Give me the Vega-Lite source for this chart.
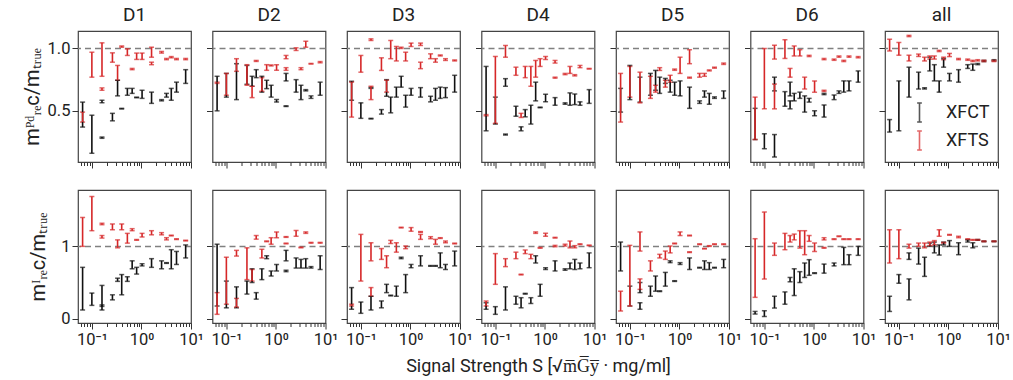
{
"$schema":"https://vega.github.io/schema/vega-lite/v6.json",
"padding":{"left":21,"top":5,"right":5,"bottom":5},
"config":{"font":"Roboto","view":{"stroke":"#444","strokeWidth":1.2},
"axis":{"grid":false,"domain":false,"tickColor":"#333","labelFontSize":16.5,"labelColor":"#222","titleFontSize":18,"titleFontWeight":"normal","titleColor":"#222","tickWidth":1},
"title":{"fontSize":19,"fontWeight":"normal","offset":6,"color":"#222"}},
"datasets":{"d":[
{"p":"D1","r":"P","m":"XFCT","s":0.065,"lo":0.37,"hi":0.57},
{"p":"D1","r":"P","m":"XFCT","s":0.1,"lo":0.16,"hi":0.465},
{"p":"D1","r":"P","m":"XFCT","s":0.16,"lo":0.565,"hi":0.585},
{"p":"D1","r":"P","m":"XFCT","s":0.16,"lo":0.28,"hi":0.29},
{"p":"D1","r":"P","m":"XFCT","s":0.26,"lo":0.42,"hi":0.48},
{"p":"D1","r":"P","m":"XFCT","s":0.33,"lo":0.62,"hi":0.745},
{"p":"D1","r":"P","m":"XFCT","s":0.4,"lo":0.515,"hi":0.52},
{"p":"D1","r":"P","m":"XFCT","s":0.52,"lo":0.625,"hi":0.68},
{"p":"D1","r":"P","m":"XFCT","s":0.65,"lo":0.64,"hi":0.68},
{"p":"D1","r":"P","m":"XFCT","s":0.8,"lo":0.605,"hi":0.61},
{"p":"D1","r":"P","m":"XFCT","s":1.03,"lo":0.6,"hi":0.665},
{"p":"D1","r":"P","m":"XFCT","s":1.6,"lo":0.56,"hi":0.65},
{"p":"D1","r":"P","m":"XFCT","s":2.55,"lo":0.58,"hi":0.59},
{"p":"D1","r":"P","m":"XFCT","s":3.2,"lo":0.61,"hi":0.64},
{"p":"D1","r":"P","m":"XFCT","s":4.0,"lo":0.585,"hi":0.68},
{"p":"D1","r":"P","m":"XFCT","s":5.1,"lo":0.65,"hi":0.73},
{"p":"D1","r":"P","m":"XFCT","s":7.8,"lo":0.72,"hi":0.83},
{"p":"D1","r":"I","m":"XFCT","s":0.065,"lo":0.12,"hi":0.71},
{"p":"D1","r":"I","m":"XFCT","s":0.1,"lo":0.184,"hi":0.354},
{"p":"D1","r":"I","m":"XFCT","s":0.16,"lo":0.12,"hi":0.46},
{"p":"D1","r":"I","m":"XFCT","s":0.16,"lo":0.17,"hi":0.19},
{"p":"D1","r":"I","m":"XFCT","s":0.26,"lo":0.26,"hi":0.33},
{"p":"D1","r":"I","m":"XFCT","s":0.33,"lo":0.516,"hi":0.56},
{"p":"D1","r":"I","m":"XFCT","s":0.4,"lo":0.33,"hi":0.61},
{"p":"D1","r":"I","m":"XFCT","s":0.52,"lo":0.516,"hi":0.58},
{"p":"D1","r":"I","m":"XFCT","s":0.65,"lo":0.69,"hi":0.8},
{"p":"D1","r":"I","m":"XFCT","s":0.8,"lo":0.617,"hi":0.71},
{"p":"D1","r":"I","m":"XFCT","s":1.03,"lo":0.73,"hi":0.76},
{"p":"D1","r":"I","m":"XFCT","s":1.6,"lo":0.71,"hi":0.83},
{"p":"D1","r":"I","m":"XFCT","s":2.55,"lo":0.69,"hi":0.8},
{"p":"D1","r":"I","m":"XFCT","s":3.2,"lo":0.765,"hi":0.775},
{"p":"D1","r":"I","m":"XFCT","s":4.0,"lo":0.69,"hi":0.954},
{"p":"D1","r":"I","m":"XFCT","s":5.1,"lo":0.75,"hi":0.93},
{"p":"D1","r":"I","m":"XFCT","s":7.8,"lo":0.84,"hi":1.02},
{"p":"D2","r":"P","m":"XFCT","s":0.065,"lo":0.5,"hi":0.777},
{"p":"D2","r":"P","m":"XFCT","s":0.1,"lo":0.61,"hi":0.8},
{"p":"D2","r":"P","m":"XFCT","s":0.16,"lo":0.59,"hi":0.878},
{"p":"D2","r":"P","m":"XFCT","s":0.26,"lo":0.713,"hi":0.864},
{"p":"D2","r":"P","m":"XFCT","s":0.33,"lo":0.697,"hi":0.777},
{"p":"D2","r":"P","m":"XFCT","s":0.4,"lo":0.766,"hi":0.83},
{"p":"D2","r":"P","m":"XFCT","s":0.52,"lo":0.65,"hi":0.777},
{"p":"D2","r":"P","m":"XFCT","s":0.65,"lo":0.678,"hi":0.745},
{"p":"D2","r":"P","m":"XFCT","s":0.8,"lo":0.61,"hi":0.705},
{"p":"D2","r":"P","m":"XFCT","s":1.03,"lo":0.57,"hi":0.59},
{"p":"D2","r":"P","m":"XFCT","s":1.6,"lo":0.74,"hi":0.8},
{"p":"D2","r":"P","m":"XFCT","s":1.6,"lo":0.535,"hi":0.54},
{"p":"D2","r":"P","m":"XFCT","s":2.55,"lo":0.65,"hi":0.75},
{"p":"D2","r":"P","m":"XFCT","s":3.2,"lo":0.59,"hi":0.705},
{"p":"D2","r":"P","m":"XFCT","s":4.0,"lo":0.66,"hi":0.67},
{"p":"D2","r":"P","m":"XFCT","s":5.1,"lo":0.6,"hi":0.62},
{"p":"D2","r":"P","m":"XFCT","s":7.8,"lo":0.625,"hi":0.73},
{"p":"D2","r":"I","m":"XFCT","s":0.065,"lo":0.175,"hi":1.03},
{"p":"D2","r":"I","m":"XFCT","s":0.1,"lo":0.15,"hi":0.52},
{"p":"D2","r":"I","m":"XFCT","s":0.16,"lo":0.15,"hi":0.44},
{"p":"D2","r":"I","m":"XFCT","s":0.26,"lo":0.34,"hi":0.52},
{"p":"D2","r":"I","m":"XFCT","s":0.33,"lo":0.5,"hi":0.69},
{"p":"D2","r":"I","m":"XFCT","s":0.4,"lo":0.27,"hi":0.36},
{"p":"D2","r":"I","m":"XFCT","s":0.52,"lo":0.54,"hi":0.69},
{"p":"D2","r":"I","m":"XFCT","s":0.65,"lo":0.83,"hi":0.87},
{"p":"D2","r":"I","m":"XFCT","s":0.8,"lo":0.59,"hi":0.66},
{"p":"D2","r":"I","m":"XFCT","s":1.03,"lo":0.66,"hi":0.75},
{"p":"D2","r":"I","m":"XFCT","s":1.6,"lo":0.8,"hi":0.945},
{"p":"D2","r":"I","m":"XFCT","s":1.6,"lo":0.65,"hi":0.67},
{"p":"D2","r":"I","m":"XFCT","s":2.55,"lo":0.7,"hi":0.84},
{"p":"D2","r":"I","m":"XFCT","s":3.2,"lo":0.7,"hi":0.82},
{"p":"D2","r":"I","m":"XFCT","s":4.0,"lo":0.7,"hi":0.83},
{"p":"D2","r":"I","m":"XFCT","s":5.1,"lo":0.7,"hi":0.72},
{"p":"D2","r":"I","m":"XFCT","s":7.8,"lo":0.68,"hi":0.87},
{"p":"D3","r":"P","m":"XFCT","s":0.065,"lo":0.585,"hi":0.737},
{"p":"D3","r":"P","m":"XFCT","s":0.1,"lo":0.44,"hi":0.564},
{"p":"D3","r":"P","m":"XFCT","s":0.16,"lo":0.68,"hi":0.688},
{"p":"D3","r":"P","m":"XFCT","s":0.16,"lo":0.435,"hi":0.44},
{"p":"D3","r":"P","m":"XFCT","s":0.26,"lo":0.474,"hi":0.51},
{"p":"D3","r":"P","m":"XFCT","s":0.33,"lo":0.617,"hi":0.75},
{"p":"D3","r":"P","m":"XFCT","s":0.4,"lo":0.484,"hi":0.61},
{"p":"D3","r":"P","m":"XFCT","s":0.52,"lo":0.61,"hi":0.69},
{"p":"D3","r":"P","m":"XFCT","s":0.65,"lo":0.69,"hi":0.777},
{"p":"D3","r":"P","m":"XFCT","s":0.8,"lo":0.53,"hi":0.625},
{"p":"D3","r":"P","m":"XFCT","s":1.03,"lo":0.625,"hi":0.68},
{"p":"D3","r":"P","m":"XFCT","s":1.6,"lo":0.61,"hi":0.686},
{"p":"D3","r":"P","m":"XFCT","s":2.55,"lo":0.572,"hi":0.617},
{"p":"D3","r":"P","m":"XFCT","s":3.2,"lo":0.585,"hi":0.68},
{"p":"D3","r":"P","m":"XFCT","s":4.0,"lo":0.6,"hi":0.69},
{"p":"D3","r":"P","m":"XFCT","s":5.1,"lo":0.606,"hi":0.686},
{"p":"D3","r":"P","m":"XFCT","s":7.8,"lo":0.65,"hi":0.785},
{"p":"D3","r":"I","m":"XFCT","s":0.065,"lo":0.13,"hi":0.43},
{"p":"D3","r":"I","m":"XFCT","s":0.1,"lo":0.074,"hi":0.23},
{"p":"D3","r":"I","m":"XFCT","s":0.16,"lo":0.12,"hi":0.31},
{"p":"D3","r":"I","m":"XFCT","s":0.26,"lo":0.15,"hi":0.245},
{"p":"D3","r":"I","m":"XFCT","s":0.33,"lo":0.36,"hi":0.475},
{"p":"D3","r":"I","m":"XFCT","s":0.4,"lo":0.315,"hi":0.325},
{"p":"D3","r":"I","m":"XFCT","s":0.52,"lo":0.31,"hi":0.45},
{"p":"D3","r":"I","m":"XFCT","s":0.65,"lo":0.83,"hi":0.85},
{"p":"D3","r":"I","m":"XFCT","s":0.8,"lo":0.36,"hi":0.61},
{"p":"D3","r":"I","m":"XFCT","s":1.03,"lo":0.705,"hi":0.75},
{"p":"D3","r":"I","m":"XFCT","s":1.6,"lo":0.73,"hi":0.87},
{"p":"D3","r":"I","m":"XFCT","s":2.55,"lo":0.725,"hi":0.735},
{"p":"D3","r":"I","m":"XFCT","s":3.2,"lo":0.725,"hi":0.735},
{"p":"D3","r":"I","m":"XFCT","s":4.0,"lo":0.705,"hi":0.91},
{"p":"D3","r":"I","m":"XFCT","s":5.1,"lo":0.68,"hi":0.75},
{"p":"D3","r":"I","m":"XFCT","s":7.8,"lo":0.73,"hi":0.935},
{"p":"D4","r":"P","m":"XFCT","s":0.065,"lo":0.34,"hi":0.856},
{"p":"D4","r":"P","m":"XFCT","s":0.1,"lo":0.394,"hi":0.61},
{"p":"D4","r":"P","m":"XFCT","s":0.16,"lo":0.697,"hi":0.758},
{"p":"D4","r":"P","m":"XFCT","s":0.16,"lo":0.306,"hi":0.314},
{"p":"D4","r":"P","m":"XFCT","s":0.26,"lo":0.457,"hi":0.537},
{"p":"D4","r":"P","m":"XFCT","s":0.33,"lo":0.34,"hi":0.372},
{"p":"D4","r":"P","m":"XFCT","s":0.4,"lo":0.452,"hi":0.51},
{"p":"D4","r":"P","m":"XFCT","s":0.52,"lo":0.394,"hi":0.545},
{"p":"D4","r":"P","m":"XFCT","s":0.65,"lo":0.58,"hi":0.73},
{"p":"D4","r":"P","m":"XFCT","s":0.8,"lo":0.525,"hi":0.53},
{"p":"D4","r":"P","m":"XFCT","s":1.03,"lo":0.572,"hi":0.633},
{"p":"D4","r":"P","m":"XFCT","s":1.6,"lo":0.545,"hi":0.606},
{"p":"D4","r":"P","m":"XFCT","s":2.55,"lo":0.553,"hi":0.564},
{"p":"D4","r":"P","m":"XFCT","s":3.2,"lo":0.545,"hi":0.644},
{"p":"D4","r":"P","m":"XFCT","s":4.0,"lo":0.55,"hi":0.635},
{"p":"D4","r":"P","m":"XFCT","s":5.1,"lo":0.545,"hi":0.572},
{"p":"D4","r":"P","m":"XFCT","s":7.8,"lo":0.56,"hi":0.67},
{"p":"D4","r":"I","m":"XFCT","s":0.065,"lo":0.13,"hi":0.22},
{"p":"D4","r":"I","m":"XFCT","s":0.1,"lo":0.06,"hi":0.166},
{"p":"D4","r":"I","m":"XFCT","s":0.16,"lo":0.12,"hi":0.44},
{"p":"D4","r":"I","m":"XFCT","s":0.26,"lo":0.2,"hi":0.31},
{"p":"D4","r":"I","m":"XFCT","s":0.33,"lo":0.15,"hi":0.29},
{"p":"D4","r":"I","m":"XFCT","s":0.4,"lo":0.34,"hi":0.35},
{"p":"D4","r":"I","m":"XFCT","s":0.52,"lo":0.21,"hi":0.29},
{"p":"D4","r":"I","m":"XFCT","s":0.65,"lo":0.77,"hi":0.87},
{"p":"D4","r":"I","m":"XFCT","s":0.8,"lo":0.31,"hi":0.475},
{"p":"D4","r":"I","m":"XFCT","s":1.03,"lo":0.68,"hi":0.705},
{"p":"D4","r":"I","m":"XFCT","s":1.6,"lo":0.66,"hi":0.8},
{"p":"D4","r":"I","m":"XFCT","s":2.55,"lo":0.67,"hi":0.69},
{"p":"D4","r":"I","m":"XFCT","s":3.2,"lo":0.69,"hi":0.77},
{"p":"D4","r":"I","m":"XFCT","s":4.0,"lo":0.68,"hi":0.82},
{"p":"D4","r":"I","m":"XFCT","s":5.1,"lo":0.69,"hi":0.77},
{"p":"D4","r":"I","m":"XFCT","s":7.8,"lo":0.705,"hi":0.91},
{"p":"D5","r":"P","m":"XFCT","s":0.065,"lo":0.49,"hi":0.68},
{"p":"D5","r":"P","m":"XFCT","s":0.1,"lo":0.59,"hi":0.864},
{"p":"D5","r":"P","m":"XFCT","s":0.16,"lo":0.57,"hi":0.77},
{"p":"D5","r":"P","m":"XFCT","s":0.26,"lo":0.625,"hi":0.8},
{"p":"D5","r":"P","m":"XFCT","s":0.33,"lo":0.665,"hi":0.824},
{"p":"D5","r":"P","m":"XFCT","s":0.4,"lo":0.64,"hi":0.77},
{"p":"D5","r":"P","m":"XFCT","s":0.52,"lo":0.72,"hi":0.76},
{"p":"D5","r":"P","m":"XFCT","s":0.65,"lo":0.65,"hi":0.745},
{"p":"D5","r":"P","m":"XFCT","s":0.8,"lo":0.625,"hi":0.73},
{"p":"D5","r":"P","m":"XFCT","s":1.03,"lo":0.62,"hi":0.74},
{"p":"D5","r":"P","m":"XFCT","s":1.6,"lo":0.52,"hi":0.69},
{"p":"D5","r":"P","m":"XFCT","s":2.55,"lo":0.56,"hi":0.58},
{"p":"D5","r":"P","m":"XFCT","s":3.2,"lo":0.61,"hi":0.66},
{"p":"D5","r":"P","m":"XFCT","s":4.0,"lo":0.553,"hi":0.64},
{"p":"D5","r":"P","m":"XFCT","s":5.1,"lo":0.6,"hi":0.612},
{"p":"D5","r":"P","m":"XFCT","s":7.8,"lo":0.6,"hi":0.66},
{"p":"D5","r":"I","m":"XFCT","s":0.065,"lo":0.66,"hi":1.06},
{"p":"D5","r":"I","m":"XFCT","s":0.1,"lo":0.175,"hi":0.45},
{"p":"D5","r":"I","m":"XFCT","s":0.16,"lo":0.36,"hi":0.5},
{"p":"D5","r":"I","m":"XFCT","s":0.16,"lo":0.13,"hi":0.22},
{"p":"D5","r":"I","m":"XFCT","s":0.26,"lo":0.31,"hi":0.45},
{"p":"D5","r":"I","m":"XFCT","s":0.33,"lo":0.38,"hi":0.59},
{"p":"D5","r":"I","m":"XFCT","s":0.4,"lo":0.375,"hi":0.385},
{"p":"D5","r":"I","m":"XFCT","s":0.52,"lo":0.45,"hi":0.64},
{"p":"D5","r":"I","m":"XFCT","s":0.65,"lo":0.775,"hi":0.8},
{"p":"D5","r":"I","m":"XFCT","s":0.8,"lo":0.515,"hi":0.525},
{"p":"D5","r":"I","m":"XFCT","s":1.03,"lo":0.75,"hi":0.775},
{"p":"D5","r":"I","m":"XFCT","s":1.6,"lo":0.68,"hi":0.84},
{"p":"D5","r":"I","m":"XFCT","s":2.55,"lo":0.7,"hi":0.71},
{"p":"D5","r":"I","m":"XFCT","s":3.2,"lo":0.68,"hi":0.8},
{"p":"D5","r":"I","m":"XFCT","s":4.0,"lo":0.68,"hi":0.775},
{"p":"D5","r":"I","m":"XFCT","s":5.1,"lo":0.7,"hi":0.71},
{"p":"D5","r":"I","m":"XFCT","s":7.8,"lo":0.705,"hi":0.82},
{"p":"D6","r":"P","m":"XFCT","s":0.065,"lo":0.27,"hi":0.52},
{"p":"D6","r":"P","m":"XFCT","s":0.1,"lo":0.197,"hi":0.316},
{"p":"D6","r":"P","m":"XFCT","s":0.16,"lo":0.13,"hi":0.31},
{"p":"D6","r":"P","m":"XFCT","s":0.16,"lo":0.66,"hi":0.77},
{"p":"D6","r":"P","m":"XFCT","s":0.26,"lo":0.537,"hi":0.654},
{"p":"D6","r":"P","m":"XFCT","s":0.33,"lo":0.62,"hi":0.73},
{"p":"D6","r":"P","m":"XFCT","s":0.33,"lo":0.516,"hi":0.58},
{"p":"D6","r":"P","m":"XFCT","s":0.4,"lo":0.58,"hi":0.64},
{"p":"D6","r":"P","m":"XFCT","s":0.52,"lo":0.6,"hi":0.65},
{"p":"D6","r":"P","m":"XFCT","s":0.65,"lo":0.49,"hi":0.62},
{"p":"D6","r":"P","m":"XFCT","s":0.8,"lo":0.57,"hi":0.6},
{"p":"D6","r":"P","m":"XFCT","s":1.03,"lo":0.46,"hi":0.5},
{"p":"D6","r":"P","m":"XFCT","s":1.6,"lo":0.45,"hi":0.547},
{"p":"D6","r":"P","m":"XFCT","s":1.6,"lo":0.63,"hi":0.64},
{"p":"D6","r":"P","m":"XFCT","s":2.55,"lo":0.59,"hi":0.627},
{"p":"D6","r":"P","m":"XFCT","s":3.2,"lo":0.64,"hi":0.66},
{"p":"D6","r":"P","m":"XFCT","s":4.0,"lo":0.65,"hi":0.74},
{"p":"D6","r":"P","m":"XFCT","s":5.1,"lo":0.66,"hi":0.74},
{"p":"D6","r":"P","m":"XFCT","s":7.8,"lo":0.73,"hi":0.82},
{"p":"D6","r":"I","m":"XFCT","s":0.065,"lo":0.064,"hi":0.1},
{"p":"D6","r":"I","m":"XFCT","s":0.1,"lo":0.03,"hi":0.11},
{"p":"D6","r":"I","m":"XFCT","s":0.16,"lo":0.147,"hi":0.31},
{"p":"D6","r":"I","m":"XFCT","s":0.26,"lo":0.2,"hi":0.37},
{"p":"D6","r":"I","m":"XFCT","s":0.33,"lo":0.51,"hi":0.57},
{"p":"D6","r":"I","m":"XFCT","s":0.4,"lo":0.32,"hi":0.69},
{"p":"D6","r":"I","m":"XFCT","s":0.52,"lo":0.5,"hi":0.65},
{"p":"D6","r":"I","m":"XFCT","s":0.65,"lo":0.57,"hi":0.77},
{"p":"D6","r":"I","m":"XFCT","s":0.8,"lo":0.6,"hi":0.816},
{"p":"D6","r":"I","m":"XFCT","s":1.03,"lo":0.625,"hi":0.635},
{"p":"D6","r":"I","m":"XFCT","s":1.6,"lo":0.63,"hi":0.755},
{"p":"D6","r":"I","m":"XFCT","s":2.55,"lo":0.73,"hi":0.77},
{"p":"D6","r":"I","m":"XFCT","s":4.0,"lo":0.747,"hi":0.986},
{"p":"D6","r":"I","m":"XFCT","s":5.1,"lo":0.747,"hi":0.885},
{"p":"D6","r":"I","m":"XFCT","s":7.8,"lo":0.876,"hi":1.0},
{"p":"all","r":"P","m":"XFCT","s":0.065,"lo":0.33,"hi":0.43},
{"p":"all","r":"P","m":"XFCT","s":0.1,"lo":0.34,"hi":0.74},
{"p":"all","r":"P","m":"XFCT","s":0.16,"lo":0.61,"hi":0.85},
{"p":"all","r":"P","m":"XFCT","s":0.25,"lo":0.675,"hi":0.81},
{"p":"all","r":"P","m":"XFCT","s":0.33,"lo":0.675,"hi":0.685},
{"p":"all","r":"P","m":"XFCT","s":0.42,"lo":0.82,"hi":0.93},
{"p":"all","r":"P","m":"XFCT","s":0.52,"lo":0.74,"hi":0.87},
{"p":"all","r":"P","m":"XFCT","s":0.65,"lo":0.65,"hi":0.74},
{"p":"all","r":"P","m":"XFCT","s":0.8,"lo":0.85,"hi":0.92},
{"p":"all","r":"P","m":"XFCT","s":1.05,"lo":0.74,"hi":0.8},
{"p":"all","r":"P","m":"XFCT","s":1.6,"lo":0.73,"hi":0.83},
{"p":"all","r":"P","m":"XFCT","s":2.45,"lo":0.84,"hi":0.87},
{"p":"all","r":"P","m":"XFCT","s":3.1,"lo":0.825,"hi":0.875},
{"p":"all","r":"P","m":"XFCT","s":3.9,"lo":0.87,"hi":0.88},
{"p":"all","r":"P","m":"XFCT","s":5.2,"lo":0.895,"hi":0.905},
{"p":"all","r":"P","m":"XFCT","s":8.3,"lo":0.9,"hi":0.91},
{"p":"all","r":"I","m":"XFCT","s":0.065,"lo":0.1,"hi":0.31},
{"p":"all","r":"I","m":"XFCT","s":0.1,"lo":0.49,"hi":0.61},
{"p":"all","r":"I","m":"XFCT","s":0.16,"lo":0.26,"hi":0.55},
{"p":"all","r":"I","m":"XFCT","s":0.16,"lo":0.82,"hi":0.91},
{"p":"all","r":"I","m":"XFCT","s":0.25,"lo":0.755,"hi":0.976},
{"p":"all","r":"I","m":"XFCT","s":0.33,"lo":0.585,"hi":0.85},
{"p":"all","r":"I","m":"XFCT","s":0.42,"lo":1.0,"hi":1.046},
{"p":"all","r":"I","m":"XFCT","s":0.52,"lo":0.91,"hi":1.06},
{"p":"all","r":"I","m":"XFCT","s":0.65,"lo":0.88,"hi":1.02},
{"p":"all","r":"I","m":"XFCT","s":0.8,"lo":1.02,"hi":1.06},
{"p":"all","r":"I","m":"XFCT","s":1.05,"lo":1.0,"hi":1.08},
{"p":"all","r":"I","m":"XFCT","s":1.6,"lo":0.885,"hi":1.05},
{"p":"all","r":"I","m":"XFCT","s":2.45,"lo":1.06,"hi":1.09},
{"p":"all","r":"I","m":"XFCT","s":3.1,"lo":0.98,"hi":1.05},
{"p":"all","r":"I","m":"XFCT","s":3.9,"lo":1.085,"hi":1.095},
{"p":"all","r":"I","m":"XFCT","s":5.2,"lo":1.065,"hi":1.075},
{"p":"all","r":"I","m":"XFCT","s":8.3,"lo":1.065,"hi":1.075},
{"p":"D1","r":"P","m":"XFTS","s":0.065,"lo":0.41,"hi":0.49},
{"p":"D1","r":"P","m":"XFTS","s":0.1,"lo":0.77,"hi":0.97},
{"p":"D1","r":"P","m":"XFTS","s":0.16,"lo":0.777,"hi":1.045},
{"p":"D1","r":"P","m":"XFTS","s":0.16,"lo":0.665,"hi":0.684},
{"p":"D1","r":"P","m":"XFTS","s":0.26,"lo":0.89,"hi":0.965},
{"p":"D1","r":"P","m":"XFTS","s":0.33,"lo":0.745,"hi":0.864},
{"p":"D1","r":"P","m":"XFTS","s":0.4,"lo":1.01,"hi":1.02},
{"p":"D1","r":"P","m":"XFTS","s":0.52,"lo":0.944,"hi":0.997},
{"p":"D1","r":"P","m":"XFTS","s":0.65,"lo":0.83,"hi":0.84},
{"p":"D1","r":"P","m":"XFTS","s":0.8,"lo":0.912,"hi":0.963},
{"p":"D1","r":"P","m":"XFTS","s":1.03,"lo":0.912,"hi":0.963},
{"p":"D1","r":"P","m":"XFTS","s":1.6,"lo":0.93,"hi":1.01},
{"p":"D1","r":"P","m":"XFTS","s":1.6,"lo":0.87,"hi":0.89},
{"p":"D1","r":"P","m":"XFTS","s":2.55,"lo":0.963,"hi":0.976},
{"p":"D1","r":"P","m":"XFTS","s":3.2,"lo":0.91,"hi":0.92},
{"p":"D1","r":"P","m":"XFTS","s":4.0,"lo":0.925,"hi":0.935},
{"p":"D1","r":"P","m":"XFTS","s":5.1,"lo":0.91,"hi":0.92},
{"p":"D1","r":"P","m":"XFTS","s":7.8,"lo":0.91,"hi":0.92},
{"p":"D1","r":"I","m":"XFTS","s":0.065,"lo":1.0,"hi":1.4},
{"p":"D1","r":"I","m":"XFTS","s":0.1,"lo":1.217,"hi":1.69},
{"p":"D1","r":"I","m":"XFTS","s":0.16,"lo":1.3,"hi":1.32},
{"p":"D1","r":"I","m":"XFTS","s":0.16,"lo":1.115,"hi":1.15},
{"p":"D1","r":"I","m":"XFTS","s":0.26,"lo":1.23,"hi":1.31},
{"p":"D1","r":"I","m":"XFTS","s":0.33,"lo":0.98,"hi":1.09},
{"p":"D1","r":"I","m":"XFTS","s":0.4,"lo":1.23,"hi":1.31},
{"p":"D1","r":"I","m":"XFTS","s":0.52,"lo":1.045,"hi":1.18},
{"p":"D1","r":"I","m":"XFTS","s":0.65,"lo":1.217,"hi":1.245},
{"p":"D1","r":"I","m":"XFTS","s":0.8,"lo":1.085,"hi":1.095},
{"p":"D1","r":"I","m":"XFTS","s":1.03,"lo":1.13,"hi":1.18},
{"p":"D1","r":"I","m":"XFTS","s":1.6,"lo":1.16,"hi":1.217},
{"p":"D1","r":"I","m":"XFTS","s":2.55,"lo":1.16,"hi":1.19},
{"p":"D1","r":"I","m":"XFTS","s":3.2,"lo":1.09,"hi":1.12},
{"p":"D1","r":"I","m":"XFTS","s":4.0,"lo":1.145,"hi":1.155},
{"p":"D1","r":"I","m":"XFTS","s":5.1,"lo":1.095,"hi":1.105},
{"p":"D1","r":"I","m":"XFTS","s":7.8,"lo":1.075,"hi":1.085},
{"p":"D2","r":"P","m":"XFTS","s":0.065,"lo":0.72,"hi":0.73},
{"p":"D2","r":"P","m":"XFTS","s":0.1,"lo":0.625,"hi":0.8},
{"p":"D2","r":"P","m":"XFTS","s":0.16,"lo":0.817,"hi":0.918},
{"p":"D2","r":"P","m":"XFTS","s":0.26,"lo":0.705,"hi":0.87},
{"p":"D2","r":"P","m":"XFTS","s":0.33,"lo":0.606,"hi":0.697},
{"p":"D2","r":"P","m":"XFTS","s":0.4,"lo":0.896,"hi":0.904},
{"p":"D2","r":"P","m":"XFTS","s":0.52,"lo":0.657,"hi":0.766},
{"p":"D2","r":"P","m":"XFTS","s":0.65,"lo":0.825,"hi":0.87},
{"p":"D2","r":"P","m":"XFTS","s":0.8,"lo":0.86,"hi":0.868},
{"p":"D2","r":"P","m":"XFTS","s":1.03,"lo":0.825,"hi":0.87},
{"p":"D2","r":"P","m":"XFTS","s":1.6,"lo":0.918,"hi":0.944},
{"p":"D2","r":"P","m":"XFTS","s":1.6,"lo":0.825,"hi":0.846},
{"p":"D2","r":"P","m":"XFTS","s":2.55,"lo":0.984,"hi":1.005},
{"p":"D2","r":"P","m":"XFTS","s":3.2,"lo":0.83,"hi":0.846},
{"p":"D2","r":"P","m":"XFTS","s":4.0,"lo":1.01,"hi":1.058},
{"p":"D2","r":"P","m":"XFTS","s":5.1,"lo":0.875,"hi":0.88},
{"p":"D2","r":"P","m":"XFTS","s":7.8,"lo":0.885,"hi":0.895},
{"p":"D2","r":"I","m":"XFTS","s":0.065,"lo":0.06,"hi":0.36},
{"p":"D2","r":"I","m":"XFTS","s":0.1,"lo":0.2,"hi":0.85},
{"p":"D2","r":"I","m":"XFTS","s":0.16,"lo":0.16,"hi":0.28},
{"p":"D2","r":"I","m":"XFTS","s":0.16,"lo":0.866,"hi":0.945},
{"p":"D2","r":"I","m":"XFTS","s":0.26,"lo":0.54,"hi":0.98},
{"p":"D2","r":"I","m":"XFTS","s":0.33,"lo":0.52,"hi":0.68},
{"p":"D2","r":"I","m":"XFTS","s":0.4,"lo":1.1,"hi":1.15},
{"p":"D2","r":"I","m":"XFTS","s":0.52,"lo":0.84,"hi":0.96},
{"p":"D2","r":"I","m":"XFTS","s":0.65,"lo":1.065,"hi":1.075},
{"p":"D2","r":"I","m":"XFTS","s":0.8,"lo":1.03,"hi":1.12},
{"p":"D2","r":"I","m":"XFTS","s":1.03,"lo":1.12,"hi":1.2},
{"p":"D2","r":"I","m":"XFTS","s":1.6,"lo":1.125,"hi":1.135},
{"p":"D2","r":"I","m":"XFTS","s":1.6,"lo":1.035,"hi":1.045},
{"p":"D2","r":"I","m":"XFTS","s":2.55,"lo":1.14,"hi":1.22},
{"p":"D2","r":"I","m":"XFTS","s":3.2,"lo":0.98,"hi":0.99},
{"p":"D2","r":"I","m":"XFTS","s":4.0,"lo":1.18,"hi":1.2},
{"p":"D2","r":"I","m":"XFTS","s":5.1,"lo":1.045,"hi":1.055},
{"p":"D2","r":"I","m":"XFTS","s":7.8,"lo":1.045,"hi":1.055},
{"p":"D3","r":"P","m":"XFTS","s":0.065,"lo":0.45,"hi":0.73},
{"p":"D3","r":"P","m":"XFTS","s":0.1,"lo":0.81,"hi":0.944},
{"p":"D3","r":"P","m":"XFTS","s":0.16,"lo":1.064,"hi":1.077},
{"p":"D3","r":"P","m":"XFTS","s":0.16,"lo":0.59,"hi":0.697},
{"p":"D3","r":"P","m":"XFTS","s":0.26,"lo":0.824,"hi":0.925},
{"p":"D3","r":"P","m":"XFTS","s":0.33,"lo":0.65,"hi":0.745},
{"p":"D3","r":"P","m":"XFTS","s":0.4,"lo":0.918,"hi":1.064},
{"p":"D3","r":"P","m":"XFTS","s":0.52,"lo":0.9,"hi":1.016},
{"p":"D3","r":"P","m":"XFTS","s":0.65,"lo":1.0,"hi":1.01},
{"p":"D3","r":"P","m":"XFTS","s":0.8,"lo":0.9,"hi":0.97},
{"p":"D3","r":"P","m":"XFTS","s":1.03,"lo":1.016,"hi":1.043},
{"p":"D3","r":"P","m":"XFTS","s":1.6,"lo":1.024,"hi":1.043},
{"p":"D3","r":"P","m":"XFTS","s":1.6,"lo":0.838,"hi":0.89},
{"p":"D3","r":"P","m":"XFTS","s":2.55,"lo":0.918,"hi":0.957},
{"p":"D3","r":"P","m":"XFTS","s":3.2,"lo":0.89,"hi":0.918},
{"p":"D3","r":"P","m":"XFTS","s":4.0,"lo":0.94,"hi":0.948},
{"p":"D3","r":"P","m":"XFTS","s":5.1,"lo":0.904,"hi":0.918},
{"p":"D3","r":"P","m":"XFTS","s":7.8,"lo":0.9,"hi":0.908},
{"p":"D3","r":"I","m":"XFTS","s":0.065,"lo":0.175,"hi":0.2},
{"p":"D3","r":"I","m":"XFTS","s":0.1,"lo":0.52,"hi":1.166},
{"p":"D3","r":"I","m":"XFTS","s":0.16,"lo":0.8,"hi":1.05},
{"p":"D3","r":"I","m":"XFTS","s":0.16,"lo":0.31,"hi":0.43},
{"p":"D3","r":"I","m":"XFTS","s":0.26,"lo":0.82,"hi":0.97},
{"p":"D3","r":"I","m":"XFTS","s":0.33,"lo":0.705,"hi":0.87},
{"p":"D3","r":"I","m":"XFTS","s":0.4,"lo":1.04,"hi":1.083},
{"p":"D3","r":"I","m":"XFTS","s":0.52,"lo":0.92,"hi":1.05},
{"p":"D3","r":"I","m":"XFTS","s":0.65,"lo":1.255,"hi":1.265},
{"p":"D3","r":"I","m":"XFTS","s":0.8,"lo":0.968,"hi":1.005},
{"p":"D3","r":"I","m":"XFTS","s":1.03,"lo":1.21,"hi":1.26},
{"p":"D3","r":"I","m":"XFTS","s":1.6,"lo":1.195,"hi":1.205},
{"p":"D3","r":"I","m":"XFTS","s":1.6,"lo":1.097,"hi":1.166},
{"p":"D3","r":"I","m":"XFTS","s":2.55,"lo":1.106,"hi":1.134},
{"p":"D3","r":"I","m":"XFTS","s":3.2,"lo":1.03,"hi":1.097},
{"p":"D3","r":"I","m":"XFTS","s":4.0,"lo":1.11,"hi":1.12},
{"p":"D3","r":"I","m":"XFTS","s":5.1,"lo":1.05,"hi":1.074},
{"p":"D3","r":"I","m":"XFTS","s":7.8,"lo":1.035,"hi":1.045},
{"p":"D4","r":"P","m":"XFTS","s":0.065,"lo":0.46,"hi":0.47},
{"p":"D4","r":"P","m":"XFTS","s":0.1,"lo":0.4,"hi":0.936},
{"p":"D4","r":"P","m":"XFTS","s":0.16,"lo":0.93,"hi":1.024},
{"p":"D4","r":"P","m":"XFTS","s":0.26,"lo":0.785,"hi":0.85},
{"p":"D4","r":"P","m":"XFTS","s":0.33,"lo":0.447,"hi":0.48},
{"p":"D4","r":"P","m":"XFTS","s":0.4,"lo":0.766,"hi":0.856},
{"p":"D4","r":"P","m":"XFTS","s":0.52,"lo":0.697,"hi":0.856},
{"p":"D4","r":"P","m":"XFTS","s":0.65,"lo":0.77,"hi":0.904},
{"p":"D4","r":"P","m":"XFTS","s":0.8,"lo":0.856,"hi":0.918},
{"p":"D4","r":"P","m":"XFTS","s":1.03,"lo":0.912,"hi":0.936},
{"p":"D4","r":"P","m":"XFTS","s":1.6,"lo":0.883,"hi":0.904},
{"p":"D4","r":"P","m":"XFTS","s":1.6,"lo":0.762,"hi":0.77},
{"p":"D4","r":"P","m":"XFTS","s":2.55,"lo":0.79,"hi":0.8},
{"p":"D4","r":"P","m":"XFTS","s":3.2,"lo":0.8,"hi":0.856},
{"p":"D4","r":"P","m":"XFTS","s":4.0,"lo":0.78,"hi":0.79},
{"p":"D4","r":"P","m":"XFTS","s":5.1,"lo":0.846,"hi":0.864},
{"p":"D4","r":"P","m":"XFTS","s":7.8,"lo":0.835,"hi":0.84},
{"p":"D4","r":"I","m":"XFTS","s":0.065,"lo":0.175,"hi":0.244},
{"p":"D4","r":"I","m":"XFTS","s":0.1,"lo":0.475,"hi":0.9},
{"p":"D4","r":"I","m":"XFTS","s":0.16,"lo":0.72,"hi":0.83},
{"p":"D4","r":"I","m":"XFTS","s":0.26,"lo":0.83,"hi":0.92},
{"p":"D4","r":"I","m":"XFTS","s":0.33,"lo":0.605,"hi":0.615},
{"p":"D4","r":"I","m":"XFTS","s":0.4,"lo":0.9,"hi":0.95},
{"p":"D4","r":"I","m":"XFTS","s":0.52,"lo":0.83,"hi":0.89},
{"p":"D4","r":"I","m":"XFTS","s":0.65,"lo":1.18,"hi":1.2},
{"p":"D4","r":"I","m":"XFTS","s":0.8,"lo":0.975,"hi":0.985},
{"p":"D4","r":"I","m":"XFTS","s":1.03,"lo":1.14,"hi":1.18},
{"p":"D4","r":"I","m":"XFTS","s":1.6,"lo":1.115,"hi":1.125},
{"p":"D4","r":"I","m":"XFTS","s":1.6,"lo":0.995,"hi":1.014},
{"p":"D4","r":"I","m":"XFTS","s":2.55,"lo":1.005,"hi":1.03},
{"p":"D4","r":"I","m":"XFTS","s":3.2,"lo":0.98,"hi":1.074},
{"p":"D4","r":"I","m":"XFTS","s":4.0,"lo":0.98,"hi":1.01},
{"p":"D4","r":"I","m":"XFTS","s":5.1,"lo":1.025,"hi":1.035},
{"p":"D4","r":"I","m":"XFTS","s":7.8,"lo":1.01,"hi":1.018},
{"p":"D5","r":"P","m":"XFTS","s":0.065,"lo":0.41,"hi":0.8},
{"p":"D5","r":"P","m":"XFTS","s":0.1,"lo":0.61,"hi":0.856},
{"p":"D5","r":"P","m":"XFTS","s":0.16,"lo":0.564,"hi":0.81},
{"p":"D5","r":"P","m":"XFTS","s":0.26,"lo":0.6,"hi":0.777},
{"p":"D5","r":"P","m":"XFTS","s":0.33,"lo":0.65,"hi":0.705},
{"p":"D5","r":"P","m":"XFTS","s":0.4,"lo":0.824,"hi":0.846},
{"p":"D5","r":"P","m":"XFTS","s":0.52,"lo":0.69,"hi":0.745},
{"p":"D5","r":"P","m":"XFTS","s":0.65,"lo":0.73,"hi":0.785},
{"p":"D5","r":"P","m":"XFTS","s":0.8,"lo":0.825,"hi":0.835},
{"p":"D5","r":"P","m":"XFTS","s":1.03,"lo":0.8,"hi":0.93},
{"p":"D5","r":"P","m":"XFTS","s":1.6,"lo":0.878,"hi":0.99},
{"p":"D5","r":"P","m":"XFTS","s":1.6,"lo":0.762,"hi":0.77},
{"p":"D5","r":"P","m":"XFTS","s":2.55,"lo":0.77,"hi":0.8},
{"p":"D5","r":"P","m":"XFTS","s":3.2,"lo":0.777,"hi":0.8},
{"p":"D5","r":"P","m":"XFTS","s":4.0,"lo":0.82,"hi":0.828},
{"p":"D5","r":"P","m":"XFTS","s":5.1,"lo":0.842,"hi":0.85},
{"p":"D5","r":"P","m":"XFTS","s":7.8,"lo":0.872,"hi":0.883},
{"p":"D5","r":"I","m":"XFTS","s":0.065,"lo":0.106,"hi":0.38},
{"p":"D5","r":"I","m":"XFTS","s":0.1,"lo":0.175,"hi":1.014},
{"p":"D5","r":"I","m":"XFTS","s":0.16,"lo":0.405,"hi":0.55},
{"p":"D5","r":"I","m":"XFTS","s":0.16,"lo":0.935,"hi":1.2},
{"p":"D5","r":"I","m":"XFTS","s":0.26,"lo":0.66,"hi":0.8},
{"p":"D5","r":"I","m":"XFTS","s":0.4,"lo":0.84,"hi":0.89},
{"p":"D5","r":"I","m":"XFTS","s":0.52,"lo":0.82,"hi":0.935},
{"p":"D5","r":"I","m":"XFTS","s":0.65,"lo":0.91,"hi":1.005},
{"p":"D5","r":"I","m":"XFTS","s":0.8,"lo":1.035,"hi":1.045},
{"p":"D5","r":"I","m":"XFTS","s":1.03,"lo":1.15,"hi":1.2},
{"p":"D5","r":"I","m":"XFTS","s":1.6,"lo":1.145,"hi":1.155},
{"p":"D5","r":"I","m":"XFTS","s":1.6,"lo":0.915,"hi":0.925},
{"p":"D5","r":"I","m":"XFTS","s":2.55,"lo":1.025,"hi":1.035},
{"p":"D5","r":"I","m":"XFTS","s":3.2,"lo":0.965,"hi":0.972},
{"p":"D5","r":"I","m":"XFTS","s":4.0,"lo":1.0,"hi":1.01},
{"p":"D5","r":"I","m":"XFTS","s":5.1,"lo":1.025,"hi":1.035},
{"p":"D5","r":"I","m":"XFTS","s":7.8,"lo":1.025,"hi":1.035},
{"p":"D6","r":"P","m":"XFTS","s":0.065,"lo":0.27,"hi":0.61},
{"p":"D6","r":"P","m":"XFTS","s":0.1,"lo":0.516,"hi":1.0},
{"p":"D6","r":"P","m":"XFTS","s":0.16,"lo":0.915,"hi":1.026},
{"p":"D6","r":"P","m":"XFTS","s":0.16,"lo":0.516,"hi":0.715},
{"p":"D6","r":"P","m":"XFTS","s":0.26,"lo":0.92,"hi":1.07},
{"p":"D6","r":"P","m":"XFTS","s":0.33,"lo":0.77,"hi":0.84},
{"p":"D6","r":"P","m":"XFTS","s":0.4,"lo":0.94,"hi":1.02},
{"p":"D6","r":"P","m":"XFTS","s":0.52,"lo":0.94,"hi":0.99},
{"p":"D6","r":"P","m":"XFTS","s":0.65,"lo":0.675,"hi":0.77},
{"p":"D6","r":"P","m":"XFTS","s":0.8,"lo":0.935,"hi":0.945},
{"p":"D6","r":"P","m":"XFTS","s":1.03,"lo":0.65,"hi":0.74},
{"p":"D6","r":"P","m":"XFTS","s":1.6,"lo":0.91,"hi":0.92},
{"p":"D6","r":"P","m":"XFTS","s":1.6,"lo":0.655,"hi":0.665},
{"p":"D6","r":"P","m":"XFTS","s":2.55,"lo":0.905,"hi":0.915},
{"p":"D6","r":"P","m":"XFTS","s":3.2,"lo":0.93,"hi":0.94},
{"p":"D6","r":"P","m":"XFTS","s":4.0,"lo":0.895,"hi":0.905},
{"p":"D6","r":"P","m":"XFTS","s":5.1,"lo":0.93,"hi":0.94},
{"p":"D6","r":"P","m":"XFTS","s":7.8,"lo":0.925,"hi":0.935},
{"p":"D6","r":"I","m":"XFTS","s":0.065,"lo":0.295,"hi":1.106},
{"p":"D6","r":"I","m":"XFTS","s":0.1,"lo":0.548,"hi":1.474},
{"p":"D6","r":"I","m":"XFTS","s":0.16,"lo":0.876,"hi":1.046},
{"p":"D6","r":"I","m":"XFTS","s":0.26,"lo":0.954,"hi":1.18},
{"p":"D6","r":"I","m":"XFTS","s":0.33,"lo":1.06,"hi":1.15},
{"p":"D6","r":"I","m":"XFTS","s":0.4,"lo":1.09,"hi":1.17},
{"p":"D6","r":"I","m":"XFTS","s":0.52,"lo":0.976,"hi":1.217},
{"p":"D6","r":"I","m":"XFTS","s":0.65,"lo":0.885,"hi":1.217},
{"p":"D6","r":"I","m":"XFTS","s":0.8,"lo":1.07,"hi":1.15},
{"p":"D6","r":"I","m":"XFTS","s":1.03,"lo":0.93,"hi":1.046},
{"p":"D6","r":"I","m":"XFTS","s":1.6,"lo":1.09,"hi":1.12},
{"p":"D6","r":"I","m":"XFTS","s":1.6,"lo":0.975,"hi":0.985},
{"p":"D6","r":"I","m":"XFTS","s":2.55,"lo":1.095,"hi":1.105},
{"p":"D6","r":"I","m":"XFTS","s":3.2,"lo":1.135,"hi":1.145},
{"p":"D6","r":"I","m":"XFTS","s":4.0,"lo":1.095,"hi":1.105},
{"p":"D6","r":"I","m":"XFTS","s":5.1,"lo":1.095,"hi":1.105},
{"p":"D6","r":"I","m":"XFTS","s":7.8,"lo":1.095,"hi":1.105},
{"p":"all","r":"P","m":"XFTS","s":0.065,"lo":0.98,"hi":1.074},
{"p":"all","r":"P","m":"XFTS","s":0.1,"lo":0.946,"hi":1.048},
{"p":"all","r":"P","m":"XFTS","s":0.16,"lo":1.095,"hi":1.105},
{"p":"all","r":"P","m":"XFTS","s":0.16,"lo":0.9,"hi":0.946},
{"p":"all","r":"P","m":"XFTS","s":0.25,"lo":0.936,"hi":0.955},
{"p":"all","r":"P","m":"XFTS","s":0.33,"lo":0.9,"hi":0.93},
{"p":"all","r":"P","m":"XFTS","s":0.42,"lo":0.915,"hi":0.94},
{"p":"all","r":"P","m":"XFTS","s":0.52,"lo":0.915,"hi":0.94},
{"p":"all","r":"P","m":"XFTS","s":0.65,"lo":0.975,"hi":0.985},
{"p":"all","r":"P","m":"XFTS","s":0.8,"lo":0.91,"hi":0.93},
{"p":"all","r":"P","m":"XFTS","s":1.05,"lo":0.935,"hi":0.96},
{"p":"all","r":"P","m":"XFTS","s":1.6,"lo":0.91,"hi":0.92},
{"p":"all","r":"P","m":"XFTS","s":2.45,"lo":0.905,"hi":0.915},
{"p":"all","r":"P","m":"XFTS","s":3.1,"lo":0.895,"hi":0.905},
{"p":"all","r":"P","m":"XFTS","s":3.9,"lo":0.9,"hi":0.91},
{"p":"all","r":"P","m":"XFTS","s":5.2,"lo":0.895,"hi":0.905},
{"p":"all","r":"P","m":"XFTS","s":8.3,"lo":0.895,"hi":0.905},
{"p":"all","r":"I","m":"XFTS","s":0.065,"lo":0.77,"hi":1.23},
{"p":"all","r":"I","m":"XFTS","s":0.1,"lo":0.83,"hi":1.23},
{"p":"all","r":"I","m":"XFTS","s":0.16,"lo":0.976,"hi":1.03},
{"p":"all","r":"I","m":"XFTS","s":0.25,"lo":1.0,"hi":1.046},
{"p":"all","r":"I","m":"XFTS","s":0.33,"lo":0.98,"hi":1.046},
{"p":"all","r":"I","m":"XFTS","s":0.42,"lo":1.01,"hi":1.06},
{"p":"all","r":"I","m":"XFTS","s":0.52,"lo":1.02,"hi":1.08},
{"p":"all","r":"I","m":"XFTS","s":0.65,"lo":1.14,"hi":1.23},
{"p":"all","r":"I","m":"XFTS","s":0.8,"lo":1.045,"hi":1.055},
{"p":"all","r":"I","m":"XFTS","s":1.05,"lo":1.155,"hi":1.165},
{"p":"all","r":"I","m":"XFTS","s":1.6,"lo":1.12,"hi":1.14},
{"p":"all","r":"I","m":"XFTS","s":2.45,"lo":1.095,"hi":1.105},
{"p":"all","r":"I","m":"XFTS","s":3.1,"lo":1.085,"hi":1.095},
{"p":"all","r":"I","m":"XFTS","s":3.9,"lo":1.085,"hi":1.095},
{"p":"all","r":"I","m":"XFTS","s":5.2,"lo":1.065,"hi":1.075},
{"p":"all","r":"I","m":"XFTS","s":8.3,"lo":1.065,"hi":1.075}
]},
"spacing":19,
"resolve":{"legend":{"color":"independent"}},
"vconcat":[
{"hconcat":[
{"width":113,"height":131,"title":"D1","layer":[
{"data":{"values":[{}]},"mark":{"type":"rule","strokeDash":[6,4],"color":"#808080","strokeWidth":1.5},"encoding":{"y":{"datum":1,"type":"quantitative","scale":{"domain":[0.09,1.14],"nice":false,"zero":false}}}},
{"data":{"name":"d"},"transform":[{"filter":"datum.p=='D1' && datum.r=='P'"}],"mark":{"type":"errorbar","thickness":1.6,"ticks":{"size":5,"thickness":1.5}},
"encoding":{"x":{"field":"s","type":"quantitative","scale":{"type":"log","domain":[0.0525,10],"nice":false},"axis":{"values":[0.06,0.07,0.08,0.09,0.1,0.2,0.3,0.4,0.5,0.6,0.7,0.8,0.9,1,2,3,4,5,6,7,8,9,10],"labels":false,"title":null,"tickSize":{"condition":{"test":"datum.value==0.1||datum.value==1||datum.value==10","value":6},"value":3.5}}},
"y":{"field":"lo","type":"quantitative","scale":{"domain":[0.09,1.14],"nice":false,"zero":false},"axis":{"values":[0.5,1.0],"format":".1f","tickSize":6,"title":"mᴾᵈᵣₑc/mₜᵣᵤₑ","titleFontSize":20,"titlePadding":5}},
"y2":{"field":"hi"},
"color":{"field":"m","type":"nominal","scale":{"domain":["XFCT","XFTS"],"range":["#111111","#d62728"]},"legend":null}}}]},
{"width":113,"height":131,"title":"D2","layer":[
{"data":{"values":[{}]},"mark":{"type":"rule","strokeDash":[6,4],"color":"#808080","strokeWidth":1.5},"encoding":{"y":{"datum":1,"type":"quantitative","scale":{"domain":[0.09,1.14],"nice":false,"zero":false}}}},
{"data":{"name":"d"},"transform":[{"filter":"datum.p=='D2' && datum.r=='P'"}],"mark":{"type":"errorbar","thickness":1.6,"ticks":{"size":5,"thickness":1.5}},
"encoding":{"x":{"field":"s","type":"quantitative","scale":{"type":"log","domain":[0.0525,10],"nice":false},"axis":{"values":[0.06,0.07,0.08,0.09,0.1,0.2,0.3,0.4,0.5,0.6,0.7,0.8,0.9,1,2,3,4,5,6,7,8,9,10],"labels":false,"title":null,"tickSize":{"condition":{"test":"datum.value==0.1||datum.value==1||datum.value==10","value":6},"value":3.5}}},
"y":{"field":"lo","type":"quantitative","scale":{"domain":[0.09,1.14],"nice":false,"zero":false},"axis":{"values":[0.5,1.0],"labels":false,"tickSize":6,"title":null}},
"y2":{"field":"hi"},
"color":{"field":"m","type":"nominal","scale":{"domain":["XFCT","XFTS"],"range":["#111111","#d62728"]},"legend":null}}}]},
{"width":113,"height":131,"title":"D3","layer":[
{"data":{"values":[{}]},"mark":{"type":"rule","strokeDash":[6,4],"color":"#808080","strokeWidth":1.5},"encoding":{"y":{"datum":1,"type":"quantitative","scale":{"domain":[0.09,1.14],"nice":false,"zero":false}}}},
{"data":{"name":"d"},"transform":[{"filter":"datum.p=='D3' && datum.r=='P'"}],"mark":{"type":"errorbar","thickness":1.6,"ticks":{"size":5,"thickness":1.5}},
"encoding":{"x":{"field":"s","type":"quantitative","scale":{"type":"log","domain":[0.0525,10],"nice":false},"axis":{"values":[0.06,0.07,0.08,0.09,0.1,0.2,0.3,0.4,0.5,0.6,0.7,0.8,0.9,1,2,3,4,5,6,7,8,9,10],"labels":false,"title":null,"tickSize":{"condition":{"test":"datum.value==0.1||datum.value==1||datum.value==10","value":6},"value":3.5}}},
"y":{"field":"lo","type":"quantitative","scale":{"domain":[0.09,1.14],"nice":false,"zero":false},"axis":{"values":[0.5,1.0],"labels":false,"tickSize":6,"title":null}},
"y2":{"field":"hi"},
"color":{"field":"m","type":"nominal","scale":{"domain":["XFCT","XFTS"],"range":["#111111","#d62728"]},"legend":null}}}]},
{"width":113,"height":131,"title":"D4","layer":[
{"data":{"values":[{}]},"mark":{"type":"rule","strokeDash":[6,4],"color":"#808080","strokeWidth":1.5},"encoding":{"y":{"datum":1,"type":"quantitative","scale":{"domain":[0.09,1.14],"nice":false,"zero":false}}}},
{"data":{"name":"d"},"transform":[{"filter":"datum.p=='D4' && datum.r=='P'"}],"mark":{"type":"errorbar","thickness":1.6,"ticks":{"size":5,"thickness":1.5}},
"encoding":{"x":{"field":"s","type":"quantitative","scale":{"type":"log","domain":[0.0525,10],"nice":false},"axis":{"values":[0.06,0.07,0.08,0.09,0.1,0.2,0.3,0.4,0.5,0.6,0.7,0.8,0.9,1,2,3,4,5,6,7,8,9,10],"labels":false,"title":null,"tickSize":{"condition":{"test":"datum.value==0.1||datum.value==1||datum.value==10","value":6},"value":3.5}}},
"y":{"field":"lo","type":"quantitative","scale":{"domain":[0.09,1.14],"nice":false,"zero":false},"axis":{"values":[0.5,1.0],"labels":false,"tickSize":6,"title":null}},
"y2":{"field":"hi"},
"color":{"field":"m","type":"nominal","scale":{"domain":["XFCT","XFTS"],"range":["#111111","#d62728"]},"legend":null}}}]},
{"width":113,"height":131,"title":"D5","layer":[
{"data":{"values":[{}]},"mark":{"type":"rule","strokeDash":[6,4],"color":"#808080","strokeWidth":1.5},"encoding":{"y":{"datum":1,"type":"quantitative","scale":{"domain":[0.09,1.14],"nice":false,"zero":false}}}},
{"data":{"name":"d"},"transform":[{"filter":"datum.p=='D5' && datum.r=='P'"}],"mark":{"type":"errorbar","thickness":1.6,"ticks":{"size":5,"thickness":1.5}},
"encoding":{"x":{"field":"s","type":"quantitative","scale":{"type":"log","domain":[0.0525,10],"nice":false},"axis":{"values":[0.06,0.07,0.08,0.09,0.1,0.2,0.3,0.4,0.5,0.6,0.7,0.8,0.9,1,2,3,4,5,6,7,8,9,10],"labels":false,"title":null,"tickSize":{"condition":{"test":"datum.value==0.1||datum.value==1||datum.value==10","value":6},"value":3.5}}},
"y":{"field":"lo","type":"quantitative","scale":{"domain":[0.09,1.14],"nice":false,"zero":false},"axis":{"values":[0.5,1.0],"labels":false,"tickSize":6,"title":null}},
"y2":{"field":"hi"},
"color":{"field":"m","type":"nominal","scale":{"domain":["XFCT","XFTS"],"range":["#111111","#d62728"]},"legend":null}}}]},
{"width":113,"height":131,"title":"D6","layer":[
{"data":{"values":[{}]},"mark":{"type":"rule","strokeDash":[6,4],"color":"#808080","strokeWidth":1.5},"encoding":{"y":{"datum":1,"type":"quantitative","scale":{"domain":[0.09,1.14],"nice":false,"zero":false}}}},
{"data":{"name":"d"},"transform":[{"filter":"datum.p=='D6' && datum.r=='P'"}],"mark":{"type":"errorbar","thickness":1.6,"ticks":{"size":5,"thickness":1.5}},
"encoding":{"x":{"field":"s","type":"quantitative","scale":{"type":"log","domain":[0.0525,10],"nice":false},"axis":{"values":[0.06,0.07,0.08,0.09,0.1,0.2,0.3,0.4,0.5,0.6,0.7,0.8,0.9,1,2,3,4,5,6,7,8,9,10],"labels":false,"title":null,"tickSize":{"condition":{"test":"datum.value==0.1||datum.value==1||datum.value==10","value":6},"value":3.5}}},
"y":{"field":"lo","type":"quantitative","scale":{"domain":[0.09,1.14],"nice":false,"zero":false},"axis":{"values":[0.5,1.0],"labels":false,"tickSize":6,"title":null}},
"y2":{"field":"hi"},
"color":{"field":"m","type":"nominal","scale":{"domain":["XFCT","XFTS"],"range":["#111111","#d62728"]},"legend":null}}}]},
{"width":113,"height":131,"title":"all","layer":[
{"data":{"values":[{}]},"mark":{"type":"rule","strokeDash":[6,4],"color":"#808080","strokeWidth":1.5},"encoding":{"y":{"datum":1,"type":"quantitative","scale":{"domain":[0.09,1.14],"nice":false,"zero":false}}}},
{"data":{"name":"d"},"transform":[{"filter":"datum.p=='all' && datum.r=='P'"}],"mark":{"type":"errorbar","thickness":1.6,"ticks":{"size":5,"thickness":1.5}},
"encoding":{"x":{"field":"s","type":"quantitative","scale":{"type":"log","domain":[0.0525,10],"nice":false},"axis":{"values":[0.06,0.07,0.08,0.09,0.1,0.2,0.3,0.4,0.5,0.6,0.7,0.8,0.9,1,2,3,4,5,6,7,8,9,10],"labels":false,"title":null,"tickSize":{"condition":{"test":"datum.value==0.1||datum.value==1||datum.value==10","value":6},"value":3.5}}},
"y":{"field":"lo","type":"quantitative","scale":{"domain":[0.09,1.14],"nice":false,"zero":false},"axis":{"values":[0.5,1.0],"labels":false,"tickSize":6,"title":null}},
"y2":{"field":"hi"},
"color":{"field":"m","type":"nominal","scale":{"domain":["XFCT","XFTS"],"range":["#111111","#d62728"]},"legend":{"orient":"bottom-right","title":null,"offset":8,"padding":0,"symbolType":"M0,-1V1M-0.25,-1H0.25M-0.25,1H0.25","symbolSize":360,"symbolStrokeWidth":1.6,"symbolFillColor":"transparent","labelFontSize":18,"labelColor":"#222","labelOffset":16,"rowPadding":1}}}}]}
],"spacing":21.5,"bounds":"flush","resolve":{"legend":{"color":"independent"}}},
{"hconcat":[
{"width":113,"height":133,"layer":[
{"data":{"values":[{}]},"mark":{"type":"rule","strokeDash":[6,4],"color":"#808080","strokeWidth":1.5},"encoding":{"y":{"datum":1,"type":"quantitative","scale":{"domain":[-0.06,1.78],"nice":false,"zero":false}}}},
{"data":{"name":"d"},"transform":[{"filter":"datum.p=='D1' && datum.r=='I'"}],"mark":{"type":"errorbar","thickness":1.6,"ticks":{"size":5,"thickness":1.5}},
"encoding":{"x":{"field":"s","type":"quantitative","scale":{"type":"log","domain":[0.0525,10],"nice":false},"axis":{"values":[0.06,0.07,0.08,0.09,0.1,0.2,0.3,0.4,0.5,0.6,0.7,0.8,0.9,1,2,3,4,5,6,7,8,9,10],"labelExpr":"datum.value==0.1?'10⁻¹':datum.value==1?'10⁰':datum.value==10?'10¹':''","labelFlush":false,"labelOverlap":false,"title":null,"tickSize":{"condition":{"test":"datum.value==0.1||datum.value==1||datum.value==10","value":6},"value":3.5}}},
"y":{"field":"lo","type":"quantitative","scale":{"domain":[-0.06,1.78],"nice":false,"zero":false},"axis":{"values":[0,1],"format":"d","tickSize":6,"title":"mᴵᵣₑc/mₜᵣᵤₑ","titleFontSize":20,"titlePadding":12}},
"y2":{"field":"hi"},
"color":{"field":"m","type":"nominal","scale":{"domain":["XFCT","XFTS"],"range":["#111111","#d62728"]},"legend":null}}}]},
{"width":113,"height":133,"layer":[
{"data":{"values":[{}]},"mark":{"type":"rule","strokeDash":[6,4],"color":"#808080","strokeWidth":1.5},"encoding":{"y":{"datum":1,"type":"quantitative","scale":{"domain":[-0.06,1.78],"nice":false,"zero":false}}}},
{"data":{"name":"d"},"transform":[{"filter":"datum.p=='D2' && datum.r=='I'"}],"mark":{"type":"errorbar","thickness":1.6,"ticks":{"size":5,"thickness":1.5}},
"encoding":{"x":{"field":"s","type":"quantitative","scale":{"type":"log","domain":[0.0525,10],"nice":false},"axis":{"values":[0.06,0.07,0.08,0.09,0.1,0.2,0.3,0.4,0.5,0.6,0.7,0.8,0.9,1,2,3,4,5,6,7,8,9,10],"labelExpr":"datum.value==0.1?'10⁻¹':datum.value==1?'10⁰':datum.value==10?'10¹':''","labelFlush":false,"labelOverlap":false,"title":null,"tickSize":{"condition":{"test":"datum.value==0.1||datum.value==1||datum.value==10","value":6},"value":3.5}}},
"y":{"field":"lo","type":"quantitative","scale":{"domain":[-0.06,1.78],"nice":false,"zero":false},"axis":{"values":[0,1],"labels":false,"tickSize":6,"title":null}},
"y2":{"field":"hi"},
"color":{"field":"m","type":"nominal","scale":{"domain":["XFCT","XFTS"],"range":["#111111","#d62728"]},"legend":null}}}]},
{"width":113,"height":133,"layer":[
{"data":{"values":[{}]},"mark":{"type":"rule","strokeDash":[6,4],"color":"#808080","strokeWidth":1.5},"encoding":{"y":{"datum":1,"type":"quantitative","scale":{"domain":[-0.06,1.78],"nice":false,"zero":false}}}},
{"data":{"name":"d"},"transform":[{"filter":"datum.p=='D3' && datum.r=='I'"}],"mark":{"type":"errorbar","thickness":1.6,"ticks":{"size":5,"thickness":1.5}},
"encoding":{"x":{"field":"s","type":"quantitative","scale":{"type":"log","domain":[0.0525,10],"nice":false},"axis":{"values":[0.06,0.07,0.08,0.09,0.1,0.2,0.3,0.4,0.5,0.6,0.7,0.8,0.9,1,2,3,4,5,6,7,8,9,10],"labelExpr":"datum.value==0.1?'10⁻¹':datum.value==1?'10⁰':datum.value==10?'10¹':''","labelFlush":false,"labelOverlap":false,"title":null,"tickSize":{"condition":{"test":"datum.value==0.1||datum.value==1||datum.value==10","value":6},"value":3.5}}},
"y":{"field":"lo","type":"quantitative","scale":{"domain":[-0.06,1.78],"nice":false,"zero":false},"axis":{"values":[0,1],"labels":false,"tickSize":6,"title":null}},
"y2":{"field":"hi"},
"color":{"field":"m","type":"nominal","scale":{"domain":["XFCT","XFTS"],"range":["#111111","#d62728"]},"legend":null}}}]},
{"width":113,"height":133,"layer":[
{"data":{"values":[{}]},"mark":{"type":"rule","strokeDash":[6,4],"color":"#808080","strokeWidth":1.5},"encoding":{"y":{"datum":1,"type":"quantitative","scale":{"domain":[-0.06,1.78],"nice":false,"zero":false}}}},
{"data":{"name":"d"},"transform":[{"filter":"datum.p=='D4' && datum.r=='I'"}],"mark":{"type":"errorbar","thickness":1.6,"ticks":{"size":5,"thickness":1.5}},
"encoding":{"x":{"field":"s","type":"quantitative","scale":{"type":"log","domain":[0.0525,10],"nice":false},"axis":{"values":[0.06,0.07,0.08,0.09,0.1,0.2,0.3,0.4,0.5,0.6,0.7,0.8,0.9,1,2,3,4,5,6,7,8,9,10],"labelExpr":"datum.value==0.1?'10⁻¹':datum.value==1?'10⁰':datum.value==10?'10¹':''","labelFlush":false,"labelOverlap":false,"title":"Signal Strength S [√m̅G̅y̅ · mg/ml]","titlePadding":10,"tickSize":{"condition":{"test":"datum.value==0.1||datum.value==1||datum.value==10","value":6},"value":3.5}}},
"y":{"field":"lo","type":"quantitative","scale":{"domain":[-0.06,1.78],"nice":false,"zero":false},"axis":{"values":[0,1],"labels":false,"tickSize":6,"title":null}},
"y2":{"field":"hi"},
"color":{"field":"m","type":"nominal","scale":{"domain":["XFCT","XFTS"],"range":["#111111","#d62728"]},"legend":null}}}]},
{"width":113,"height":133,"layer":[
{"data":{"values":[{}]},"mark":{"type":"rule","strokeDash":[6,4],"color":"#808080","strokeWidth":1.5},"encoding":{"y":{"datum":1,"type":"quantitative","scale":{"domain":[-0.06,1.78],"nice":false,"zero":false}}}},
{"data":{"name":"d"},"transform":[{"filter":"datum.p=='D5' && datum.r=='I'"}],"mark":{"type":"errorbar","thickness":1.6,"ticks":{"size":5,"thickness":1.5}},
"encoding":{"x":{"field":"s","type":"quantitative","scale":{"type":"log","domain":[0.0525,10],"nice":false},"axis":{"values":[0.06,0.07,0.08,0.09,0.1,0.2,0.3,0.4,0.5,0.6,0.7,0.8,0.9,1,2,3,4,5,6,7,8,9,10],"labelExpr":"datum.value==0.1?'10⁻¹':datum.value==1?'10⁰':datum.value==10?'10¹':''","labelFlush":false,"labelOverlap":false,"title":null,"tickSize":{"condition":{"test":"datum.value==0.1||datum.value==1||datum.value==10","value":6},"value":3.5}}},
"y":{"field":"lo","type":"quantitative","scale":{"domain":[-0.06,1.78],"nice":false,"zero":false},"axis":{"values":[0,1],"labels":false,"tickSize":6,"title":null}},
"y2":{"field":"hi"},
"color":{"field":"m","type":"nominal","scale":{"domain":["XFCT","XFTS"],"range":["#111111","#d62728"]},"legend":null}}}]},
{"width":113,"height":133,"layer":[
{"data":{"values":[{}]},"mark":{"type":"rule","strokeDash":[6,4],"color":"#808080","strokeWidth":1.5},"encoding":{"y":{"datum":1,"type":"quantitative","scale":{"domain":[-0.06,1.78],"nice":false,"zero":false}}}},
{"data":{"name":"d"},"transform":[{"filter":"datum.p=='D6' && datum.r=='I'"}],"mark":{"type":"errorbar","thickness":1.6,"ticks":{"size":5,"thickness":1.5}},
"encoding":{"x":{"field":"s","type":"quantitative","scale":{"type":"log","domain":[0.0525,10],"nice":false},"axis":{"values":[0.06,0.07,0.08,0.09,0.1,0.2,0.3,0.4,0.5,0.6,0.7,0.8,0.9,1,2,3,4,5,6,7,8,9,10],"labelExpr":"datum.value==0.1?'10⁻¹':datum.value==1?'10⁰':datum.value==10?'10¹':''","labelFlush":false,"labelOverlap":false,"title":null,"tickSize":{"condition":{"test":"datum.value==0.1||datum.value==1||datum.value==10","value":6},"value":3.5}}},
"y":{"field":"lo","type":"quantitative","scale":{"domain":[-0.06,1.78],"nice":false,"zero":false},"axis":{"values":[0,1],"labels":false,"tickSize":6,"title":null}},
"y2":{"field":"hi"},
"color":{"field":"m","type":"nominal","scale":{"domain":["XFCT","XFTS"],"range":["#111111","#d62728"]},"legend":null}}}]},
{"width":113,"height":133,"layer":[
{"data":{"values":[{}]},"mark":{"type":"rule","strokeDash":[6,4],"color":"#808080","strokeWidth":1.5},"encoding":{"y":{"datum":1,"type":"quantitative","scale":{"domain":[-0.06,1.78],"nice":false,"zero":false}}}},
{"data":{"name":"d"},"transform":[{"filter":"datum.p=='all' && datum.r=='I'"}],"mark":{"type":"errorbar","thickness":1.6,"ticks":{"size":5,"thickness":1.5}},
"encoding":{"x":{"field":"s","type":"quantitative","scale":{"type":"log","domain":[0.0525,10],"nice":false},"axis":{"values":[0.06,0.07,0.08,0.09,0.1,0.2,0.3,0.4,0.5,0.6,0.7,0.8,0.9,1,2,3,4,5,6,7,8,9,10],"labelExpr":"datum.value==0.1?'10⁻¹':datum.value==1?'10⁰':datum.value==10?'10¹':''","labelFlush":false,"labelOverlap":false,"title":null,"tickSize":{"condition":{"test":"datum.value==0.1||datum.value==1||datum.value==10","value":6},"value":3.5}}},
"y":{"field":"lo","type":"quantitative","scale":{"domain":[-0.06,1.78],"nice":false,"zero":false},"axis":{"values":[0,1],"labels":false,"tickSize":6,"title":null}},
"y2":{"field":"hi"},
"color":{"field":"m","type":"nominal","scale":{"domain":["XFCT","XFTS"],"range":["#111111","#d62728"]},"legend":null}}}]}
],"spacing":21.5,"bounds":"flush","resolve":{"legend":{"color":"independent"}}}
]
}
